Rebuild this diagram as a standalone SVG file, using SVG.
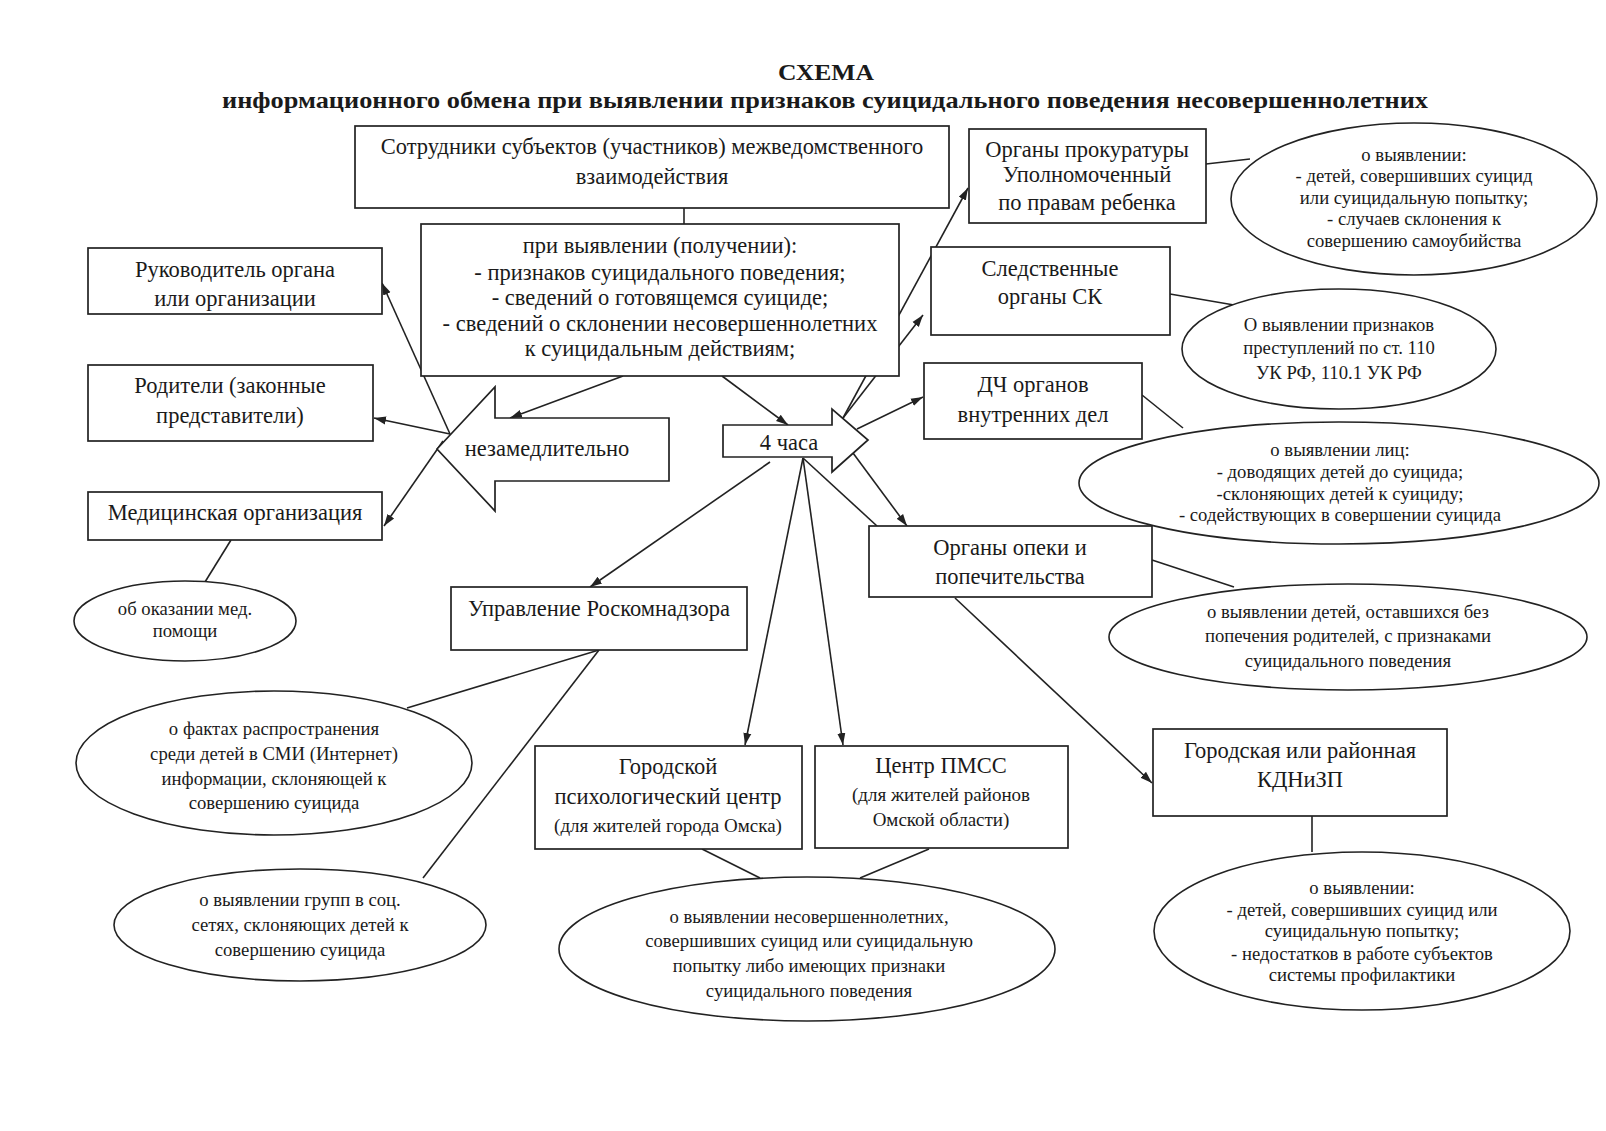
<svg xmlns="http://www.w3.org/2000/svg" width="1606" height="1131" viewBox="0 0 1606 1131">
<defs>
<marker id="ah" viewBox="0 0 12 10" refX="12" refY="5" markerWidth="12" markerHeight="10" orient="auto" markerUnits="userSpaceOnUse">
<path d="M0,1 L12,5 L0,9 z" fill="#222"/>
</marker>
<style>
.bx{fill:#fff;stroke:#222;stroke-width:1.7}
.el{fill:#fff;stroke:#222;stroke-width:1.6}
.ln{stroke:#222;stroke-width:1.6;fill:none}
.ar{stroke:#222;stroke-width:1.6;fill:none;marker-end:url(#ah)}
text{font-family:"Liberation Serif","Times New Roman",serif;fill:#1a1a1a;text-anchor:middle}
.t{font-size:22.5px}
.s{font-size:19px}
.e{font-size:18.7px}
.h{font-size:24px;font-weight:bold}
</style>
</defs>
<rect width="1606" height="1131" fill="#fff"/>
<g id="title">
<text class="h" x="826" y="80" textLength="96" lengthAdjust="spacingAndGlyphs">СХЕМА</text>
<text class="h" x="825" y="108" textLength="1206" lengthAdjust="spacingAndGlyphs">информационного обмена при выявлении признаков суицидального поведения несовершеннолетних</text>
</g>
<g id="connectors">
<line class="ln" x1="684" y1="208" x2="684" y2="224"/>
<line class="ar" x1="450" y1="434" x2="382" y2="283"/>
<line class="ar" x1="450" y1="434" x2="374" y2="418"/>
<line class="ar" x1="443" y1="441" x2="384" y2="526"/>
<line class="ar" x1="623" y1="376" x2="510" y2="418"/>
<line class="ar" x1="722" y1="376" x2="788" y2="425"/>
<line class="ar" x1="843" y1="418" x2="968" y2="188"/>
<line class="ar" x1="843" y1="418" x2="923" y2="315"/>
<line class="ar" x1="857" y1="429" x2="923" y2="397"/>
<line class="ar" x1="770" y1="462" x2="590" y2="587"/>
<line class="ar" x1="803" y1="458" x2="745" y2="745"/>
<line class="ar" x1="803" y1="458" x2="843" y2="745"/>
<line class="ln" x1="803" y1="458" x2="877" y2="526"/>
<line class="ar" x1="853" y1="453" x2="907" y2="526"/>
<line class="ar" x1="955" y1="598" x2="1152" y2="783"/>
<line class="ln" x1="1206" y1="164" x2="1250" y2="159"/>
<line class="ln" x1="1170" y1="294" x2="1234" y2="305"/>
<line class="ln" x1="1142" y1="395" x2="1183" y2="428"/>
<line class="ln" x1="1152" y1="560" x2="1234" y2="587"/>
<line class="ln" x1="231" y1="540" x2="205" y2="582"/>
<line class="ln" x1="599" y1="650" x2="407" y2="708"/>
<line class="ln" x1="599" y1="650" x2="423" y2="878"/>
<line class="ln" x1="702" y1="849" x2="760" y2="878"/>
<line class="ln" x1="929" y1="849" x2="860" y2="878"/>
<line class="ln" x1="1312" y1="816" x2="1312" y2="852"/>
</g>
<g id="n-sotr">
<rect class="bx" x="355" y="126" width="594" height="82"/>
<text class="t" x="652" y="154">Сотрудники субъектов (участников) межведомственного</text>
<text class="t" x="652" y="184">взаимодействия</text>
</g>
<g id="n-pri">
<rect class="bx" x="421" y="224" width="478" height="152"/>
<text class="t" x="660" y="253">при выявлении (получении):</text>
<text class="t" x="660" y="280">- признаков суицидального поведения;</text>
<text class="t" x="660" y="305">- сведений о готовящемся суициде;</text>
<text class="t" x="660" y="331">- сведений о склонении несовершеннолетних</text>
<text class="t" x="660" y="356">к суицидальным действиям;</text>
</g>
<g id="n-ruk">
<rect class="bx" x="88" y="248" width="294" height="66"/>
<text class="t" x="235" y="277">Руководитель органа</text>
<text class="t" x="235" y="306">или организации</text>
</g>
<g id="n-rod">
<rect class="bx" x="88" y="365" width="285" height="76"/>
<text class="t" x="230" y="393">Родители (законные</text>
<text class="t" x="230" y="423">представители)</text>
</g>
<g id="n-med">
<rect class="bx" x="88" y="492" width="294" height="48"/>
<text class="t" x="235" y="520">Медицинская организация</text>
</g>
<g id="n-medel">
<ellipse class="el" cx="185" cy="621" rx="111" ry="40"/>
<text class="e" x="185" y="615">об оказании мед.</text>
<text class="e" x="185" y="637">помощи</text>
</g>
<g id="n-nezam">
<polygon class="bx" points="437,449 495,387 495,418 669,418 669,481 495,481 495,511"/>
<text class="t" x="547" y="456">незамедлительно</text>
</g>
<g id="n-4ch">
<polygon class="bx" points="723,425 832,425 832,409 868,440 832,472 832,457 723,457"/>
<text class="t" x="789" y="450">4 часа</text>
</g>
<g id="n-prok">
<rect class="bx" x="969" y="129" width="237" height="94"/>
<text class="t" x="1087" y="157">Органы прокуратуры</text>
<text class="t" x="1087" y="182">Уполномоченный</text>
<text class="t" x="1087" y="210">по правам ребенка</text>
</g>
<g id="n-prokel">
<ellipse class="el" cx="1414" cy="199" rx="183" ry="76"/>
<text class="e" x="1414" y="161">о выявлении:</text>
<text class="e" x="1414" y="182">- детей, совершивших суицид</text>
<text class="e" x="1414" y="204">или суицидальную попытку;</text>
<text class="e" x="1414" y="225">- случаев склонения к</text>
<text class="e" x="1414" y="247">совершению самоубийства</text>
</g>
<g id="n-sk">
<rect class="bx" x="931" y="247" width="239" height="88"/>
<text class="t" x="1050" y="276">Следственные</text>
<text class="t" x="1050" y="304">органы СК</text>
</g>
<g id="n-skel">
<ellipse class="el" cx="1339" cy="349" rx="157" ry="60"/>
<text class="e" x="1339" y="331">О выявлении признаков</text>
<text class="e" x="1339" y="354">преступлений по ст. 110</text>
<text class="e" x="1339" y="379">УК РФ, 110.1 УК РФ</text>
</g>
<g id="n-dch">
<rect class="bx" x="924" y="363" width="218" height="76"/>
<text class="t" x="1033" y="392">ДЧ органов</text>
<text class="t" x="1033" y="422">внутренних дел</text>
</g>
<g id="n-dchel">
<ellipse class="el" cx="1339" cy="483" rx="260" ry="61"/>
<text class="e" x="1340" y="456">о выявлении лиц:</text>
<text class="e" x="1340" y="478">- доводящих детей до суицида;</text>
<text class="e" x="1340" y="500">-склоняющих детей к суициду;</text>
<text class="e" x="1340" y="521">- содействующих в совершении суицида</text>
</g>
<g id="n-opek">
<rect class="bx" x="869" y="526" width="283" height="71"/>
<text class="t" x="1010" y="555">Органы опеки и</text>
<text class="t" x="1010" y="584">попечительства</text>
</g>
<g id="n-opekel">
<ellipse class="el" cx="1348" cy="637" rx="239" ry="53"/>
<text class="e" x="1348" y="618">о выявлении детей, оставшихся без</text>
<text class="e" x="1348" y="642">попечения родителей, с признаками</text>
<text class="e" x="1348" y="667">суицидального поведения</text>
</g>
<g id="n-rkn">
<rect class="bx" x="451" y="587" width="296" height="63"/>
<text class="t" x="599" y="616">Управление Роскомнадзора</text>
</g>
<g id="n-faktel">
<ellipse class="el" cx="274" cy="763" rx="198" ry="72"/>
<text class="e" x="274" y="735">о фактах распространения</text>
<text class="e" x="274" y="760">среди детей в СМИ (Интернет)</text>
<text class="e" x="274" y="785">информации, склоняющей к</text>
<text class="e" x="274" y="809">совершению суицида</text>
</g>
<g id="n-grel">
<ellipse class="el" cx="300" cy="925" rx="186" ry="56"/>
<text class="e" x="300" y="906">о выявлении групп в соц.</text>
<text class="e" x="300" y="931">сетях, склоняющих детей к</text>
<text class="e" x="300" y="956">совершению суицида</text>
</g>
<g id="n-gpc">
<rect class="bx" x="535" y="746" width="267" height="103"/>
<text class="t" x="668" y="774">Городской</text>
<text class="t" x="668" y="804">психологический центр</text>
<text class="s" x="668" y="832">(для жителей города Омска)</text>
</g>
<g id="n-pmss">
<rect class="bx" x="815" y="746" width="253" height="102"/>
<text class="t" x="941" y="773">Центр ПМСС</text>
<text class="s" x="941" y="801">(для жителей районов</text>
<text class="s" x="941" y="826">Омской области)</text>
</g>
<g id="n-botel">
<ellipse class="el" cx="807" cy="949" rx="248" ry="72"/>
<text class="e" x="809" y="923">о выявлении несовершеннолетних,</text>
<text class="e" x="809" y="947">совершивших суицид или суицидальную</text>
<text class="e" x="809" y="972">попытку либо имеющих признаки</text>
<text class="e" x="809" y="997">суицидального поведения</text>
</g>
<g id="n-kdn">
<rect class="bx" x="1153" y="729" width="294" height="87"/>
<text class="t" x="1300" y="758">Городская или районная</text>
<text class="t" x="1300" y="787">КДНиЗП</text>
</g>
<g id="n-kdnel">
<ellipse class="el" cx="1362" cy="931" rx="208" ry="79"/>
<text class="e" x="1362" y="894">о выявлении:</text>
<text class="e" x="1362" y="916">- детей, совершивших суицид или</text>
<text class="e" x="1362" y="937">суицидальную попытку;</text>
<text class="e" x="1362" y="960">- недостатков в работе субъектов</text>
<text class="e" x="1362" y="981">системы профилактики</text>
</g>
</svg>
